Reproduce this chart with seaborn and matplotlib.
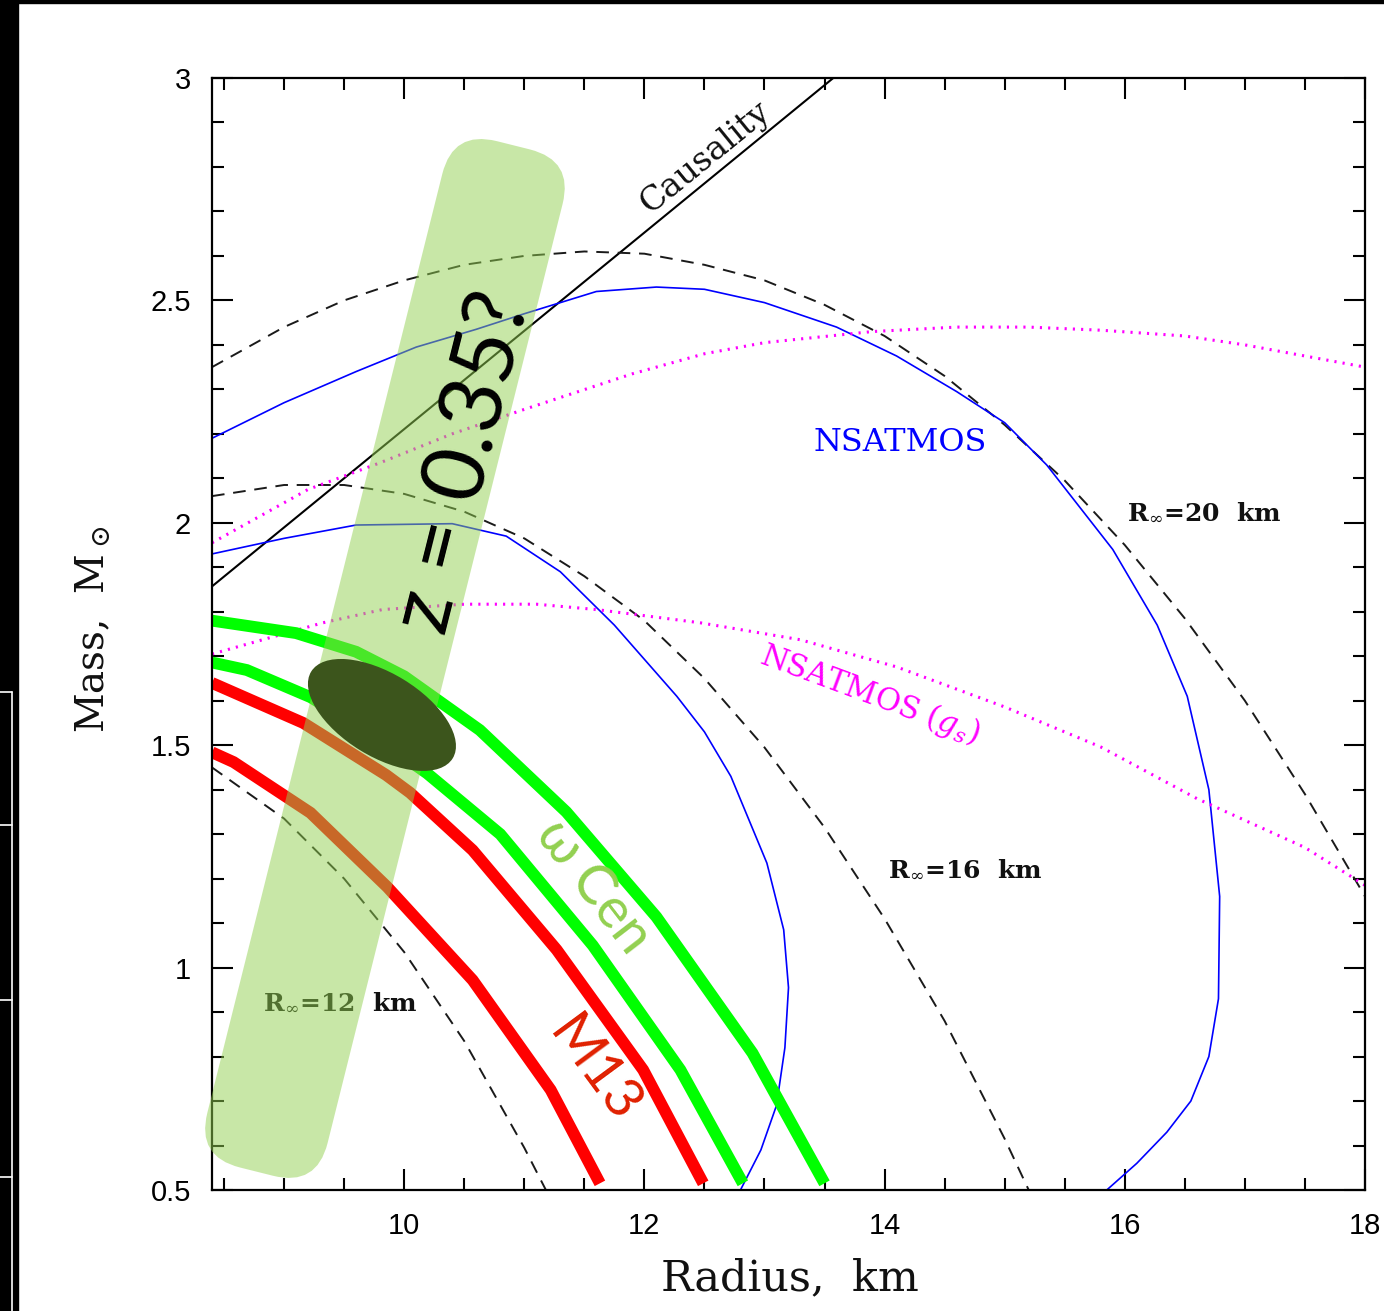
import matplotlib
matplotlib.use('Agg')
import matplotlib.pyplot as plt
import seaborn as sns
from matplotlib.patches import FancyBboxPatch, Ellipse, Rectangle
from matplotlib.transforms import Affine2D, ScaledTranslation
from matplotlib.ticker import MultipleLocator
from matplotlib.lines import Line2D

# curves (radius km, mass Msun)
causal_r = [8.4, 13.6]
causal_m = [1.857, 3.006]

rinf20_r = [8.4, 9.0, 9.5, 10.0, 10.5, 11.0, 11.5, 12.0, 12.5, 13.0, 13.5, 14.0, 14.5, 15.0, 15.5, 16.0, 16.5, 17.0, 17.5, 18.0]
rinf20_m = [2.35, 2.44, 2.50, 2.545, 2.58, 2.60, 2.61, 2.605, 2.58, 2.545, 2.49, 2.42, 2.33, 2.22, 2.095, 1.95, 1.785, 1.60, 1.39, 1.16]
rinf16_r = [8.4, 9.0, 9.5, 10.0, 10.5, 11.0, 11.5, 12.0, 12.5, 13.0, 13.5, 14.0, 14.5, 15.0, 15.2]
rinf16_m = [2.06, 2.085, 2.085, 2.065, 2.025, 1.965, 1.88, 1.78, 1.65, 1.495, 1.315, 1.11, 0.88, 0.615, 0.50]
rinf12_r = [8.4, 9.0, 9.5, 10.0, 10.5, 11.0, 11.18]
rinf12_m = [1.45, 1.335, 1.20, 1.035, 0.835, 0.595, 0.50]

nsat_hi_r = [8.4, 9.0, 9.6, 10.1, 10.6, 11.0, 11.6, 12.1, 12.5, 13.0, 13.6, 14.1, 14.6, 15.0, 15.35, 15.9, 16.27, 16.52, 16.7, 16.79, 16.78, 16.7, 16.55, 16.35, 16.1, 15.85]
nsat_hi_m = [2.19, 2.27, 2.34, 2.395, 2.435, 2.47, 2.52, 2.53, 2.525, 2.495, 2.44, 2.375, 2.295, 2.225, 2.13, 1.94, 1.77, 1.61, 1.40, 1.16, 0.93, 0.80, 0.70, 0.63, 0.56, 0.50]
nsat_lo_r = [8.4, 9.0, 9.6, 10.4, 10.85, 11.3, 11.75, 12.27, 12.5, 12.72, 13.02, 13.16, 13.2, 13.17, 13.1, 12.97, 12.8]
nsat_lo_m = [1.93, 1.965, 1.995, 1.998, 1.97, 1.89, 1.77, 1.61, 1.53, 1.43, 1.235, 1.085, 0.955, 0.82, 0.69, 0.59, 0.50]

gs_hi_r = [8.4, 9.2, 9.8, 10.4, 11.0, 11.9, 12.5, 13.0, 13.9, 14.6, 15.2, 15.8, 16.5, 17.0, 17.5, 18.0]
gs_hi_m = [1.955, 2.075, 2.135, 2.20, 2.255, 2.335, 2.38, 2.405, 2.43, 2.44, 2.44, 2.433, 2.42, 2.40, 2.375, 2.35]
gs_lo_r = [8.4, 8.86, 9.32, 9.82, 10.5, 11.1, 11.6, 12.47, 13.3, 14.1, 15.0, 15.8, 16.6, 17.5, 18.0]
gs_lo_m = [1.705, 1.74, 1.775, 1.805, 1.817, 1.817, 1.805, 1.775, 1.737, 1.676, 1.586, 1.496, 1.38, 1.27, 1.185]

wcen_hi_r = [8.4, 9.1, 9.6, 10.0, 10.63, 11.35, 12.1, 12.9, 13.5]
wcen_hi_m = [1.78, 1.752, 1.71, 1.655, 1.534, 1.35, 1.114, 0.808, 0.515]
wcen_lo_r = [8.4, 8.69, 9.22, 9.7, 10.19, 10.8, 11.57, 12.3, 12.82]
wcen_lo_m = [1.686, 1.669, 1.608, 1.53, 1.437, 1.30, 1.05, 0.77, 0.515]
m13_hi_r = [8.4, 9.16, 9.85, 10.05, 10.57, 11.27, 11.99, 12.49]
m13_hi_m = [1.64, 1.55, 1.433, 1.393, 1.264, 1.04, 0.77, 0.515]
m13_lo_r = [8.4, 8.58, 9.22, 9.86, 10.57, 11.22, 11.63]
m13_lo_m = [1.484, 1.462, 1.348, 1.181, 0.972, 0.725, 0.515]

xtick_vals = [10, 12, 14, 16, 18]
xtick_labels = ['10', '12', '14', '16', '18']
ytick_vals = [0.5, 1.0, 1.5, 2.0, 2.5, 3.0]
ytick_labels = ['0.5', '1', '1.5', '2', '2.5', '3']

sns.set_theme(style='ticks')
plt.rcParams['font.family'] = ['DejaVu Serif']
plt.rcParams['mathtext.fontset'] = 'dejavuserif'

W, H = 1384, 1311
fig = plt.figure(figsize=(W / 100, H / 100), dpi=100)
fig.patch.set_facecolor('white')
ax = fig.add_axes([212 / W, 1 - 1190 / H, 1153 / W, 1112 / H])
ax.set_facecolor('white')

# slide border bits
fig.add_artist(Rectangle((0, 0), 18 / W, 1, transform=fig.transFigure, color='black', zorder=0))
fig.add_artist(Rectangle((0, 1 - 3 / H), 1, 3 / H, transform=fig.transFigure, color='black', zorder=0))
fig.add_artist(Line2D([12 / W, 12 / W], [0, 1 - 692 / H], transform=fig.transFigure, color='white', lw=1.2))
for yy in [692, 825, 1000, 1177]:
    fig.add_artist(Line2D([0, 12 / W], [1 - yy / H, 1 - yy / H], transform=fig.transFigure, color='white', lw=1.2))


def curve(r, m, **kw):
    sns.lineplot(x=r, y=m, sort=False, estimator=None, ax=ax, **kw)


dash = (0, (6.5, 4.5))
dots = (0, (0.7, 2.0))
curve(causal_r, causal_m, color='black', linewidth=1.5)
for r, m in [(rinf20_r, rinf20_m), (rinf16_r, rinf16_m), (rinf12_r, rinf12_m)]:
    curve(r, m, color='#1a1a1a', linewidth=1.4, linestyle=dash)
for r, m in [(nsat_hi_r, nsat_hi_m), (nsat_lo_r, nsat_lo_m)]:
    curve(r, m, color='#0000FF', linewidth=1.2)
for r, m in [(gs_hi_r, gs_hi_m), (gs_lo_r, gs_lo_m)]:
    curve(r, m, color='#FF00FF', linewidth=2.2, linestyle=dots)
for r, m in [(wcen_hi_r, wcen_hi_m), (wcen_lo_r, wcen_lo_m)]:
    curve(r, m, color='#00FF00', linewidth=8.5, solid_capstyle='butt', solid_joinstyle='miter')
for r, m in [(m13_hi_r, m13_hi_m), (m13_lo_r, m13_lo_m)]:
    curve(r, m, color='#FF0000', linewidth=8.5, solid_capstyle='butt', solid_joinstyle='miter')

ax.set_xlim(8.4, 18)
ax.set_ylim(0.5, 3)
ax.set_xticks(xtick_vals, xtick_labels, fontfamily='Liberation Sans', fontsize=21)
ax.set_yticks(ytick_vals, ytick_labels, fontfamily='Liberation Sans', fontsize=21)
ax.xaxis.set_minor_locator(MultipleLocator(0.5))
ax.yaxis.set_minor_locator(MultipleLocator(0.1))
ax.tick_params(which='both', direction='in', top=True, right=True, width=1.5, color='black', labelcolor='black')
ax.tick_params(which='major', length=15)
ax.tick_params(which='minor', length=8.5)
ax.tick_params(axis='x', which='major', pad=16)
ax.tick_params(axis='y', which='major', pad=15)
for s in ax.spines.values():
    s.set_linewidth(1.6)
    s.set_color('black')

ax.set_xlabel('Radius,  km', fontsize=31, color='#111111')
ax.xaxis.label.set_va('center')
ax.xaxis.set_label_coords(0.501, -0.079)
ax.set_ylabel('Mass,  M$_\\odot$', fontsize=28, color='#111111')
ax.yaxis.label.set_va('center')
ax.yaxis.set_label_coords(-0.104, 0.504)

# labels on the plot
ax.text(12.51, 2.82, 'Causality', rotation=39.2, rotation_mode='anchor', ha='center', va='center', fontsize=24, color='#111111')
ax.text(14.13, 2.18, 'NSATMOS', color='#0000FF', fontsize=23, ha='center', va='center')
ax.text(13.88, 1.613, 'NSATMOS $(g_s)$', color='#FF00FF', fontsize=22, rotation=-20.4,
        rotation_mode='anchor', ha='center', va='center')
ax.text(16.66, 2.022, 'R$_\\infty$=20  km', fontsize=18, fontweight='bold', ha='center', va='center', color='#111111')
ax.text(14.67, 1.219, 'R$_\\infty$=16  km', fontsize=18, fontweight='bold', ha='center', va='center', color='#111111')
ax.text(9.467, 0.92, 'R$_\\infty$=12  km', fontsize=18, fontweight='bold', ha='center', va='center', color='#111111', zorder=3)

# highlighted band and ellipse (sizes in pixels, placed at a data point)
band_c = (9.84, 1.695)
band = FancyBboxPatch((-62, -529), 124, 1058, boxstyle='round,pad=0,rounding_size=45',
                      facecolor='#92D050', edgecolor='none', alpha=0.5, clip_on=False, zorder=5,
                      transform=Affine2D().rotate_deg(-14.05) + ScaledTranslation(*band_c, ax.transData))
ax.add_artist(band)
ell_c = (9.815, 1.568)
ell = Ellipse((0, 0), 166, 83, angle=-31.5, facecolor='#3C551C', edgecolor='none', zorder=6,
              transform=ScaledTranslation(*ell_c, ax.transData))
ax.add_artist(ell)

sans = ['Lato', 'DejaVu Sans']
ax.text(10.5, 2.135, 'z = 0.35?', fontsize=63, family=sans, rotation=75.9, rotation_mode='anchor',
        ha='center', va='center', color='black', zorder=7)
ax.text(11.575, 1.183, 'ω Cen', fontsize=40, family=sans, rotation=-52.4, rotation_mode='anchor',
        ha='center', va='center', color='#92D050', zorder=7)
ax.text(11.58, 0.768, 'M13', fontsize=40, family=sans, rotation=-53.6, rotation_mode='anchor',
        ha='center', va='center', color='#E02000', zorder=7)

fig.savefig('out.png', dpi=100, facecolor='white')
